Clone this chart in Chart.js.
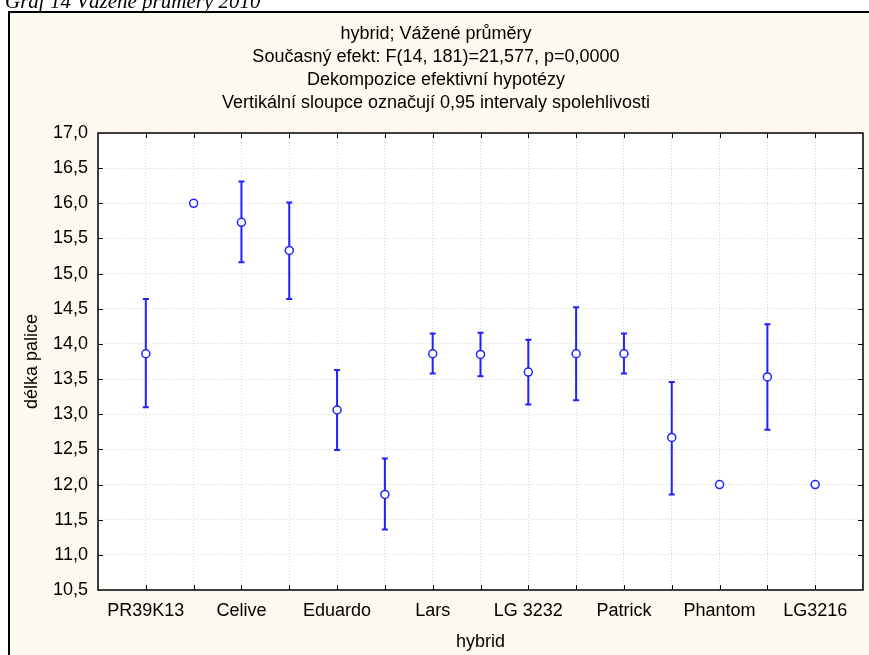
<!DOCTYPE html>
<html lang="cs">
<head>
<meta charset="utf-8">
<title>Graf 14 Vážené průměry 2010</title>
<script src="https://cdn.jsdelivr.net/npm/chart.js@4/dist/chart.umd.min.js"></script>
<style>
    html, body { margin: 0; padding: 0; background: #ffffff; }
    #wrap { position: relative; width: 869px; height: 655px; overflow: hidden; }
    #graf { position: absolute; left: 0; top: 0; }
    #nadpis {
        position: absolute; left: 5px; top: -9px;
        font: italic 21px 'Liberation Serif', 'Times New Roman', serif;
        line-height: 21px; white-space: nowrap; color: #000;
    }
</style>
</head>
<body>
<div id="wrap">
    <canvas id="graf" width="869" height="655"></canvas>
    <div id="nadpis">Graf 14 Vážené průměry 2010</div>
</div>
<script>
// Hybridy (popisek je jen u každého druhého)
const categories = ['PR39K13', '', 'Celive', '', 'Eduardo', '', 'Lars', '', 'LG 3232', '', 'Patrick', '', 'Phantom', '', 'LG3216'];
// Vážené průměry délky palice
const means = [13.86, 16.00, 15.73, 15.33, 13.06, 11.86, 13.86, 13.85, 13.60, 13.86, 13.86, 12.67, 12.00, 13.53, 12.00];
// 0,95 intervaly spolehlivosti (null = bez intervalu)
const lower = [13.10, null, 15.16, 14.64, 12.49, 11.36, 13.58, 13.54, 13.14, 13.20, 13.58, 11.86, null, 12.78, null];
const upper = [14.64, null, 16.31, 16.01, 13.63, 12.37, 14.15, 14.16, 14.06, 14.52, 14.15, 13.46, null, 14.28, null];
// Popisky osy y
const yMin = 10.5;
const yMax = 17.0;
const yStep = 0.5;

const titleLines = [
    'hybrid; Vážené průměry',
    'Současný efekt: F(14, 181)=21,577, p=0,0000',
    'Dekompozice efektivní hypotézy',
    'Vertikální sloupce označují 0,95 intervaly spolehlivosti'
];

const blue = '#2020ff';
const cream = '#fdf9ee';

// Pozadí rámu a bílá plocha grafu
const framePlugin = {
    id: 'frame',
    beforeDraw(chart) {
        const ctx = chart.ctx;
        const a = chart.chartArea;
        ctx.save();
        ctx.fillStyle = cream;
        ctx.fillRect(9, 12, chart.width - 9, chart.height - 12);
        ctx.strokeStyle = '#000';
        ctx.lineWidth = 2;
        ctx.beginPath();
        ctx.moveTo(9, chart.height);
        ctx.lineTo(9, 12);
        ctx.lineTo(chart.width, 12);
        ctx.stroke();
        ctx.fillStyle = '#fff';
        ctx.fillRect(a.left, a.top, a.right - a.left, a.bottom - a.top);
        ctx.restore();
    },
    afterDraw(chart) {
        const ctx = chart.ctx;
        const a = chart.chartArea;
        const xs = chart.scales.x;
        const ys = chart.scales.y;
        ctx.save();
        ctx.strokeStyle = '#000';
        ctx.lineWidth = 1.5;
        ctx.strokeRect(a.left, a.top, a.right - a.left, a.bottom - a.top);
        // Vnitřní značky na všech stranách
        ctx.lineWidth = 1;
        ctx.beginPath();
        for (let i = 1; i <= categories.length; i++) {
            const px = Math.round(xs.getPixelForValue(i)) + 0.5;
            ctx.moveTo(px, a.bottom); ctx.lineTo(px, a.bottom - 5);
            ctx.moveTo(px, a.top); ctx.lineTo(px, a.top + 5);
        }
        for (let v = yMin + yStep; v < yMax; v += yStep) {
            const py = Math.round(ys.getPixelForValue(v)) + 0.5;
            ctx.moveTo(a.left, py); ctx.lineTo(a.left + 5, py);
            ctx.moveTo(a.right, py); ctx.lineTo(a.right - 5, py);
        }
        ctx.stroke();
        ctx.restore();
    }
};

// Chybové úsečky (intervaly spolehlivosti)
const errorBarPlugin = {
    id: 'errorBars',
    beforeDatasetsDraw(chart) {
        const ctx = chart.ctx;
        const xs = chart.scales.x;
        const ys = chart.scales.y;
        ctx.save();
        ctx.strokeStyle = blue;
        ctx.lineWidth = 2;
        means.forEach((m, i) => {
            if (lower[i] === null) return;
            const px = xs.getPixelForValue(i + 1);
            const yl = ys.getPixelForValue(lower[i]);
            const yu = ys.getPixelForValue(upper[i]);
            ctx.beginPath();
            ctx.moveTo(px, yl); ctx.lineTo(px, yu);
            ctx.moveTo(px - 3, yl); ctx.lineTo(px + 3, yl);
            ctx.moveTo(px - 3, yu); ctx.lineTo(px + 3, yu);
            ctx.stroke();
        });
        ctx.restore();
    }
};

Chart.defaults.font.family = "'Liberation Sans', Arial, sans-serif";
Chart.defaults.color = '#000';

const ctx = document.getElementById('graf').getContext('2d');
new Chart(ctx, {
    type: 'scatter',
    data: {
        datasets: [{
            label: 'délka palice',
            data: means.map((m, i) => ({ x: i + 1, y: m })),
            pointStyle: 'circle',
            pointRadius: 4,
            pointBorderWidth: 1.5,
            pointBorderColor: blue,
            pointBackgroundColor: '#fff',
            showLine: false
        }]
    },
    options: {
        responsive: false,
        animation: false,
        layout: {
            padding: { left: 9, top: 12, right: 6, bottom: 0 }
        },
        plugins: {
            legend: { display: false },
            tooltip: { enabled: false },
            title: {
                display: true,
                text: titleLines,
                color: '#000',
                font: { size: 18, weight: 'normal', lineHeight: 23 / 18 },
                padding: { top: 10.5, bottom: 18.5 }
            }
        },
        scales: {
            x: {
                type: 'linear',
                min: 0,
                max: categories.length + 1,
                afterFit(scale) {
                    scale.height = 65;
                    scale.paddingLeft = 0;
                    scale.paddingRight = 0;
                },
                border: { display: false, dash: [1, 2] },
                grid: {
                    color: '#d4d4d4',
                    lineWidth: 1,
                    drawTicks: false
                },
                ticks: {
                    stepSize: 1,
                    autoSkip: false,
                    maxRotation: 0,
                    minRotation: 0,
                    padding: 10,
                    font: { size: 18 },
                    callback: (v) => categories[v - 1] || ''
                },
                title: {
                    display: true,
                    text: 'hybrid',
                    font: { size: 18 },
                    padding: { top: 0, bottom: 2 }
                }
            },
            y: {
                min: yMin,
                max: yMax,
                afterFit(scale) { scale.width = 89; },
                border: { display: false, dash: [1, 2] },
                grid: {
                    color: '#d4d4d4',
                    lineWidth: 1,
                    drawTicks: false
                },
                ticks: {
                    stepSize: yStep,
                    padding: 10,
                    font: { size: 18 },
                    callback: (v) => v.toFixed(1).replace('.', ',')
                },
                title: {
                    display: true,
                    text: 'délka palice',
                    font: { size: 18 },
                    padding: { top: 12, bottom: 0 }
                }
            }
        }
    },
    plugins: [framePlugin, errorBarPlugin]
});
</script>
</body>
</html>
